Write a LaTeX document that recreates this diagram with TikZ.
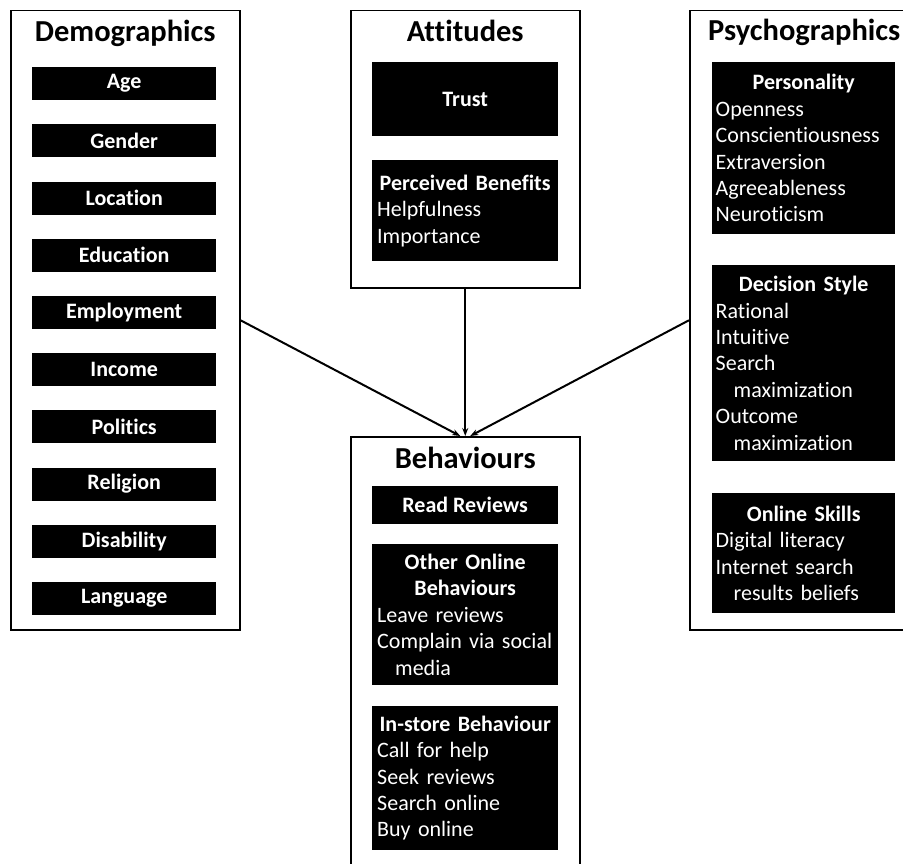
\documentclass[tikz,border=0pt]{standalone}
\usepackage{fontspec}
\setmainfont{Carlito}[Ligatures=NoCommon, WordSpace={1,0,0}]
\usetikzlibrary{positioning,arrows.meta}

\newcommand{\boxhead}[1]{{\centering\bfseries #1\par}}
\newcommand{\indentln}{\hspace*{18pt}}

\tikzset{
  panel/.style={draw=black, line width=1.5pt, anchor=north west, inner sep=0pt,
    minimum width=229pt},
  paneltitle/.style={anchor=base, font=\fontsize{30.5}{36}\selectfont\bfseries},
  tag/.style={fill=black, text=white, anchor=north west, inner sep=0pt,
    minimum width=184pt, minimum height=33pt,
    font=\fontsize{22}{26.4}\selectfont\bfseries},
  listbox/.style={fill=black, text=white, anchor=north west, inner xsep=5pt,
    inner ysep=0pt, text width=176pt, align=left,
    font=\fontsize{22}{26.4}\selectfont},
  link/.style={-{Stealth[length=8pt,width=6pt]}, line width=2pt},
}

\begin{document}
\begin{tikzpicture}[x=1pt, y=-1pt]
  \useasboundingbox (0,0) rectangle (903,864);

  % panels
  \node[panel, minimum height=619pt] (demo) at (10,10) {};
  \node[panel, minimum height=277pt] (att) at (350,10) {};
  \node[panel, minimum height=619pt] (psy) at (689,10) {};
  \node[panel, minimum height=440pt] (behav) at (350,436) {};

  \node[paneltitle] (demo-title) at ([yshift=-32pt]demo.north) {Demographics};
  \node[paneltitle] (att-title) at ([yshift=-32pt]att.north) {Attitudes};
  \node[paneltitle] (psy-title) at ([yshift=-31pt]psy.north) {Psychographics};
  \node[paneltitle] (behav-title) at ([yshift=-32pt]behav.north) {Behaviours};

  % demographics
  \foreach \name [count=\i from 0] in {Age,Gender,Location,Education,Employment,
      Income,Politics,Religion,Disability,Language}
    \node[tag] (demo-\i) at (32,{67+57.2*\i}) {\name};

  % attitudes
  \node[tag, minimum width=186pt, minimum height=74pt] (trust) at (372,62) {Trust};
  \node[listbox, minimum height=101pt] (benefits) at (372,160) {%
    \boxhead{Perceived Benefits}
    Helpfulness\\ Importance};

  % psychographics
  \node[listbox, inner xsep=3.5pt, minimum height=172pt] (personality) at (712,62) {%
    \boxhead{Personality}
    Openness\\ Conscientiousness\\ Extraversion\\ Agreeableness\\ Neuroticism};
  \node[listbox, inner xsep=3.5pt, minimum height=196pt] (decision) at (712,265) {%
    \boxhead{Decision Style}
    Rational\\ Intuitive\\ Search\\ \indentln maximization\\ Outcome\\
    \indentln maximization};
  \node[listbox, inner xsep=3.5pt, minimum height=120pt] (skills) at (712,493) {%
    \boxhead{Online Skills}
    Digital literacy\\ Internet search\\ \indentln results beliefs};

  % behaviours
  \node[tag, minimum width=186pt, minimum height=38pt] (reviews) at (372,486) {Read Reviews};
  \node[listbox, minimum height=141pt] (online) at (372,544) {%
    \boxhead{Other Online\\ Behaviours}
    Leave reviews\\ Complain via social\\ \indentln media};
  \node[listbox, minimum height=144pt] (instore) at (372,706) {%
    \boxhead{In-store Behaviour}
    Call for help\\ Seek reviews\\ Search online\\ Buy online};

  % links
  \draw[link] (demo.east) -- ([xshift=-5pt]behav.north);
  \draw[link] (att.south) -- (behav.north);
  \draw[link] (psy.west) -- ([xshift=5pt]behav.north);
\end{tikzpicture}
\end{document}
